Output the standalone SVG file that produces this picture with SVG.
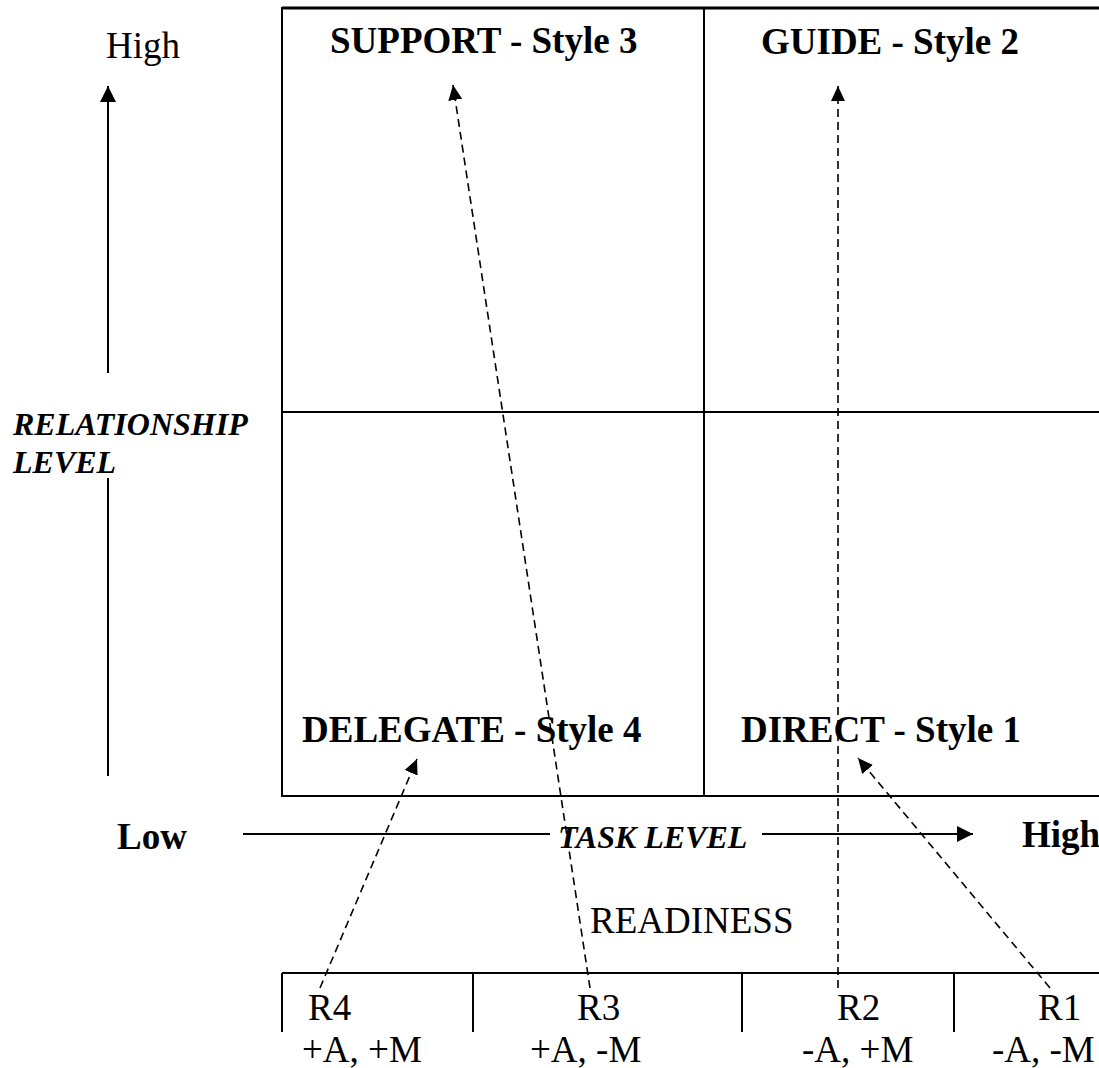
<svg xmlns="http://www.w3.org/2000/svg" width="1099" height="1068" viewBox="0 0 1099 1068">
<style>
text{font-family:"Liberation Serif","Times New Roman",serif;font-size:37px;fill:#000}
.b{font-weight:bold}
.bi{font-weight:bold;font-style:italic;font-size:32px}
.frame{stroke:#000;stroke-width:2;fill:none}
.axis{stroke:#000;stroke-width:2;fill:none}
.dash{stroke:#000;stroke-width:1.6;fill:none;stroke-dasharray:8 5}
</style>
<defs>
<marker id="ah" viewBox="0 0 16 16" refX="16" refY="8" markerWidth="16" markerHeight="16" markerUnits="userSpaceOnUse" orient="auto">
<path d="M0,0 L16,8 L0,16 Z" fill="#000"/>
</marker>
<marker id="dh" viewBox="0 0 15 14" refX="15" refY="7" markerWidth="15" markerHeight="14" markerUnits="userSpaceOnUse" orient="auto">
<path d="M0,0 L15,7 L0,14 Z" fill="#000"/>
</marker>
</defs>
<rect width="1099" height="1068" fill="#fff"/>
<g id="grid">
<line class="frame" x1="282" y1="8" x2="1099" y2="8" style="stroke-width:3"/>
<line class="frame" x1="282" y1="7" x2="282" y2="797"/>
<line class="frame" x1="704" y1="8" x2="704" y2="796"/>
<line class="frame" x1="282" y1="412" x2="1099" y2="412"/>
<line class="frame" x1="282" y1="796" x2="1099" y2="796"/>
</g>
<g id="support"><text class="b" x="330" y="53">SUPPORT - Style 3</text></g>
<g id="guide"><text class="b" x="761" y="54">GUIDE - Style 2</text></g>
<g id="delegate"><text class="b" x="302" y="742">DELEGATE - Style 4</text></g>
<g id="direct"><text class="b" x="741" y="742">DIRECT - Style 1</text></g>
<g id="y-axis">
<text x="106" y="58">High</text>
<text class="bi" x="13" y="435">RELATIONSHIP</text>
<text class="bi" x="13" y="473">LEVEL</text>
</g>
<g id="x-axis">
<text class="b" x="117" y="849">Low</text>
<text class="bi" x="558" y="848">TASK LEVEL</text>
<text class="b" x="1022" y="847">High</text>
</g>
<g id="readiness">
<text x="590" y="933">READINESS</text>
<line class="frame" x1="282" y1="973" x2="1099" y2="973"/>
<line class="frame" x1="282" y1="973" x2="282" y2="1032"/>
<line class="frame" x1="473" y1="973" x2="473" y2="1032"/>
<line class="frame" x1="742" y1="973" x2="742" y2="1032"/>
<line class="frame" x1="954" y1="973" x2="954" y2="1032"/>
</g>
<g id="r4"><text x="308" y="1020">R4</text><text x="302" y="1062">+A, +M</text></g>
<g id="r3"><text x="577" y="1020">R3</text><text x="530" y="1062">+A, -M</text></g>
<g id="r2"><text x="837" y="1020">R2</text><text x="802" y="1062">-A, +M</text></g>
<g id="r1"><text x="1038" y="1020">R1</text><text x="992" y="1062">-A, -M</text></g>
<g id="connectors">
<line class="axis" x1="108" y1="373" x2="108" y2="86" marker-end="url(#ah)"/>
<line class="axis" x1="108" y1="478" x2="108" y2="776"/>
<line class="axis" x1="243" y1="834" x2="550" y2="834"/>
<line class="axis" x1="762" y1="834" x2="973" y2="834" marker-end="url(#ah)"/>
<line class="dash" x1="590" y1="988" x2="453" y2="85" marker-end="url(#dh)"/>
<line class="dash" x1="838" y1="988" x2="838" y2="86" marker-end="url(#dh)"/>
<line class="dash" x1="320" y1="988" x2="417" y2="759" marker-end="url(#dh)"/>
<line class="dash" x1="1050" y1="988" x2="858" y2="758" marker-end="url(#dh)"/>
</g>
</svg>
